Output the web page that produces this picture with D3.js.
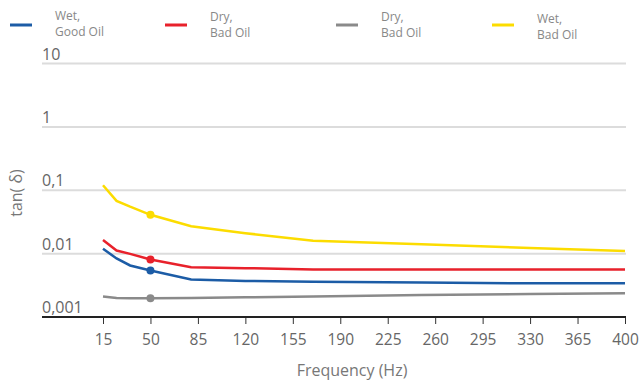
<!DOCTYPE html>
<html lang="en">
<head>
<meta charset="UTF-8">
<title>tan delta</title>
<script src="https://cdn.jsdelivr.net/npm/d3@7"></script>
<style>
  body { margin: 0; background: #fff; }
  svg { font-family: "Open Sans", sans-serif; }
</style>
</head>
<body>
<div id="chart"></div>
<script>
// frequencies (Hz) where the curves are sampled
const freqs = [15, 25, 35, 50, 80, 120, 170, 250, 330, 400];
const wetGood = [0.0119, 0.0084, 0.0065, 0.0054, 0.0039, 0.0037, 0.0036, 0.0035, 0.0034, 0.0034];
const dryBad1 = [0.0164, 0.0112, 0.0099, 0.0081, 0.0061, 0.0059, 0.0056, 0.0056, 0.0056, 0.0056];
const dryBad2 = [0.0021, 0.00199, 0.00197, 0.00198, 0.0020, 0.00205, 0.0021, 0.00222, 0.0023, 0.00237];
const wetBad = [0.12, 0.068, 0.055, 0.041, 0.027, 0.021, 0.016, 0.014, 0.0123, 0.011];
const xTicks = [15, 50, 85, 120, 155, 190, 225, 260, 295, 330, 365, 400];
const yTicks = [0.001, 0.01, 0.1, 1, 10];
const yTickLabels = ["0,001", "0,01", "0,1", "1", "10"];
const markerFreq = 50;

const series = [
  { name: ["Wet,", "Good Oil"], values: wetGood, color: "#1c5ca6" },
  { name: ["Dry,", "Bad Oil"], values: dryBad1, color: "#e8212b" },
  { name: ["Dry,", "Bad Oil"], values: dryBad2, color: "#8a8a8a" },
  { name: ["Wet,", "Bad Oil"], values: wetBad, color: "#fcdc00" }
];

const width = 641, height = 381;
const gridLeft = 42, gridRight = 626;

const x = d3.scaleLinear().domain([15, 400]).range([103, 625]);
const y = d3.scaleLog().domain([0.001, 10]).range([317, 63.5]);

const svg = d3.select("#chart").append("svg")
  .attr("width", width)
  .attr("height", height);

// gridlines
svg.append("g")
  .selectAll("line")
  .data(yTicks.slice(1))
  .join("line")
    .attr("x1", gridLeft)
    .attr("x2", gridRight)
    .attr("y1", d => y(d))
    .attr("y2", d => y(d))
    .attr("stroke", "#dcdcdc")
    .attr("stroke-width", 2);

// y labels sit above the gridlines
svg.append("g")
  .selectAll("text")
  .data(yTicks)
  .join("text")
    .attr("x", gridLeft)
    .attr("y", d => y(d) - 4)
    .attr("fill", "#666")
    .attr("font-size", 16)
    .text((d, i) => yTickLabels[i]);

// x axis
const xAxis = svg.append("g")
  .attr("transform", `translate(0,${y(0.001)})`)
  .call(d3.axisBottom(x).tickValues(xTicks).tickSize(7).tickPadding(10).tickSizeOuter(0));
xAxis.select(".domain").remove();
xAxis.append("line")
  .attr("x1", gridLeft).attr("x2", gridRight)
  .attr("stroke", "#222").attr("stroke-width", 1.8);
xAxis.selectAll(".tick line").attr("stroke", "#333");
xAxis.selectAll(".tick text")
  .attr("fill", "#666")
  .attr("font-size", 15.5)
  .attr("font-family", "Open Sans, sans-serif");

svg.append("text")
  .attr("x", 352)
  .attr("y", 376)
  .attr("text-anchor", "middle")
  .attr("fill", "#777")
  .attr("font-size", 16)
  .text("Frequency (Hz)");

svg.append("text")
  .attr("transform", `translate(22,193) rotate(-90)`)
  .attr("text-anchor", "middle")
  .attr("fill", "#777")
  .attr("font-size", 16)
  .text("tan( δ)");

// lines
const line = d3.line()
  .x((d, i) => x(freqs[i]))
  .y(d => y(d));

series.forEach(s => {
  svg.append("path")
    .attr("d", line(s.values))
    .attr("fill", "none")
    .attr("stroke", s.color)
    .attr("stroke-width", 2.5);
  const mi = freqs.indexOf(markerFreq);
  svg.append("circle")
    .attr("cx", x(freqs[mi]))
    .attr("cy", y(s.values[mi]))
    .attr("r", 4)
    .attr("fill", s.color);
});

// legend
const legendX = [10, 165, 336, 492];
const legendTextY = [[20, 36], [21, 37], [21, 37], [23, 39]];
const legend = svg.append("g")
  .selectAll("g")
  .data(series)
  .join("g")
    .attr("transform", (d, i) => `translate(${legendX[i]},0)`);
legend.append("line")
  .attr("x1", 0).attr("x2", 22)
  .attr("y1", 25).attr("y2", 25)
  .attr("stroke", d => d.color)
  .attr("stroke-width", 3);
legend.each(function(d, i) {
  const g = d3.select(this);
  d.name.forEach((t, j) => {
    g.append("text")
      .attr("x", 45)
      .attr("y", legendTextY[i][j])
      .attr("fill", "#888")
      .attr("font-size", 12)
      .text(t);
  });
});
</script>
</body>
</html>
